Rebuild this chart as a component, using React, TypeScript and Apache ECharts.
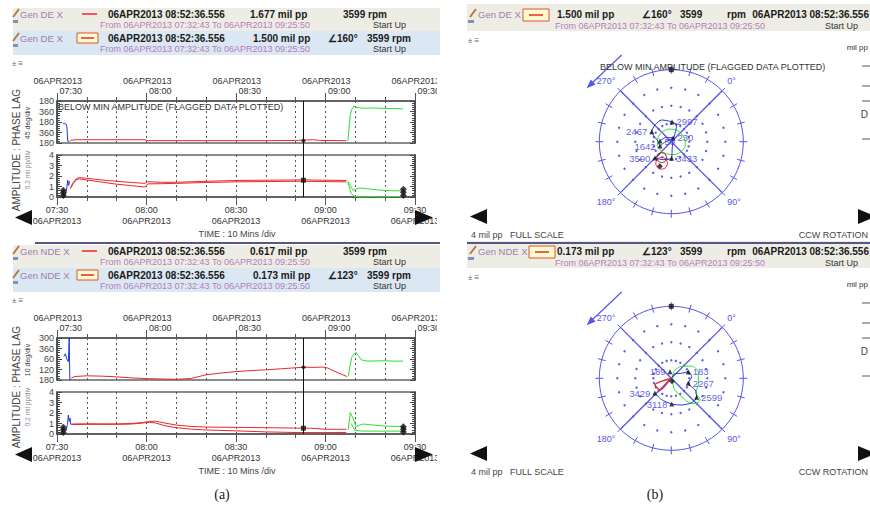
import React, { useEffect, useRef } from 'react';
import * as echarts from 'echarts';

const FONT = '"Liberation Sans", Arial, Helvetica, sans-serif';

// ---------------- texts / header values ----------------
const DATE_LABEL = '06APR2013';
const TIME_TICKS = ['07:30', '08:00', '08:30', '09:00', '09:30']; // minutes 0,30,60,90,120 after 07:30
const PROBES = ['Gen DE X', 'Gen NDE X'];
const CURSOR_STAMP = '06APR2013 08:52:36.556';
const RANGE_TEXT = 'From 06APR2013 07:32:43 To 06APR2013 09:25:50';
const DIRECT_AMPS = ['1.677 mil pp', '0.617 mil pp'];
const FILTERED_AMPS = ['1.500 mil pp', '0.173 mil pp'];
const FILTERED_PHASES = ['∠160°', '∠123°'];
const RPM_VALUE = '3599';
const MACHINE_STATE = 'Start Up';
const PHASE_SCALES = ['45 deg/div', '10 deg/div'];
const AMP_SCALE = '0.2 mil pp/div';
const AXIS_TITLE = 'AMPLITUDE : PHASE LAG';
const TIME_TITLE = 'TIME : 10 Mins /div';
const FLAG_NOTE = 'BELOW MIN AMPLITUDE (FLAGGED DATA PLOTTED)';
const FULL_SCALE = '4 mil pp   FULL SCALE';
const ROTATION = 'CCW ROTATION';
const PANEL_TAGS = ['(a)', '(b)'];

const CURSOR_MIN = 82.6; // 08:52:36
const DE_PHASE_TICKS = ['180', '360', '180', '360', '180'];
const NDE_PHASE_TICKS = ['300', '360', '60', '120', '180'];

// ---------------- trend data: [minutes after 07:30, value] ----------------
const DE_PHASE_BLUE = [[2.0, 95], [2.6, 97], [3.0, 99], [3.3, 108], [3.6, 172], [4.2, 173]];
const DE_PHASE_RED = [[4.5, 169], [6, 166], [15, 166], [29.5, 166], [30.5, 170], [50, 170], [70, 170], [80, 169], [84, 167], [86, 166], [88, 169], [97, 170]];
const DE_PHASE_GREEN = [[97.5, 170], [98.3, 60], [98.8, 36], [99.5, 22], [100.2, 26], [101, 29], [103, 31], [106, 30], [110, 32], [113, 32], [116, 34]];
const DE_AMP_BLUE = [[2.4, 0.0], [2.9, 0.3], [3.3, 0.9], [3.6, 1.6], [3.9, 1.1], [4.2, 1.5]];
const DE_AMP_RED_HI = [[4.5, 0.9], [5.5, 1.4], [6.5, 1.75], [7.5, 1.85], [10, 1.78], [15, 1.62], [20, 1.5], [25, 1.38], [29.5, 1.3], [30.5, 1.45], [35, 1.4], [40, 1.4], [50, 1.5], [60, 1.57], [70, 1.6], [82, 1.63], [90, 1.6], [97, 1.57]];
const DE_AMP_RED_LO = [[4.5, 0.8], [5.5, 1.3], [6.5, 1.65], [7.5, 1.72], [10, 1.62], [15, 1.42], [20, 1.22], [25, 1.08], [29.5, 0.95], [30.5, 1.25], [35, 1.27], [40, 1.3], [50, 1.38], [60, 1.44], [70, 1.47], [82, 1.5], [90, 1.47], [97, 1.44]];
const DE_AMP_GREEN_HI = [[97.5, 1.5], [98.3, 1.1], [99.3, 0.62], [100.5, 0.8], [101.5, 0.86], [104, 0.78], [108, 0.66], [112, 0.6], [116, 0.58]];
const DE_AMP_GREEN_LO = [[97.5, 1.45], [98.5, 0.35], [99.8, 0.05], [102, 0.04], [108, 0.04], [116, 0.04]];
const DE_AMP_MARKS = [[2.1, 0.15], [2.1, 0.4], [2.1, 0.65], [116.1, 0.15], [116.1, 0.45], [116.1, 0.75]];
const DE_CURSOR_VALUES = [170, 1.6]; // phase, amplitude at cursor

const NDE_PHASE_BLUE = [[2.3, 45], [2.8, 30], [3.3, 60], [3.8, 75], [4.1, -60], [4.3, 180], [4.6, 178]];
const NDE_PHASE_RED = [[4.8, 168], [6, 160], [10, 156], [15, 158], [20, 162], [25, 168], [30, 172], [35, 174], [40, 176], [45, 171], [50, 150], [55, 140], [60, 132], [65, 126], [70, 122], [75, 116], [80, 110], [83, 107], [86, 108], [89, 106], [90.5, 110], [93, 130], [96, 152], [97.2, 160]];
const NDE_PHASE_GREEN = [[97.6, 160], [98.2, 100], [98.8, 50], [99.6, 30], [100.3, 24], [101, 40], [102, 65], [104, 72], [107, 71], [110, 70], [113, 72], [116, 72]];
const NDE_AMP_BLUE = [[3.0, 0.3], [3.5, 0.9], [3.8, 1.8], [4.1, 1.2], [4.4, 1.5], [4.6, 0.9]];
const NDE_AMP_RED_HI = [[4.8, 0.95], [10, 0.97], [20, 0.96], [25, 1.0], [29, 1.1], [31, 1.2], [33, 1.22], [36, 1.05], [40, 0.85], [45, 0.72], [50, 0.66], [60, 0.63], [70, 0.6], [80, 0.56], [85, 0.55], [90, 0.45], [97, 0.45]];
const NDE_AMP_RED_LO = [[4.8, 0.9], [10, 0.92], [20, 0.92], [25, 0.95], [29, 1.05], [31, 1.12], [33, 1.05], [36, 0.8], [40, 0.6], [45, 0.46], [50, 0.38], [60, 0.3], [70, 0.2], [80, 0.14], [90, 0.13], [97, 0.15]];
const NDE_AMP_GREEN_HI = [[97.6, 0.4], [98.3, 2.05], [99.2, 1.5], [100.3, 0.7], [101.5, 0.85], [102.5, 0.95], [105, 0.88], [110, 0.75], [116, 0.72]];
const NDE_AMP_GREEN_LO = [[98.6, 1.0], [99.8, 0.35], [102, 0.28], [108, 0.27], [116, 0.28]];
const NDE_AMP_MARKS = [[2.1, 0.15], [2.1, 0.4], [2.1, 0.65], [116.1, 0.2], [116.1, 0.45], [116.1, 0.7]];
const NDE_CURSOR_VALUES = [107, 0.55];

// ---------------- polar data: [amplitude mil pp, phase deg] ----------------
const POLAR_DE_BLUE = [[0.63, 228], [0.4, 260], [0.23, 340], [0.45, 215], [0.67, 204], [0.72, 225], [1.22, 252], [1.3, 271], [1.32, 291], [1.1, 317], [0.97, 333], [0.51, 339], [0.1, 20], [0.5, 130], [0.92, 134], [1.1, 160], [1.29, 180]];
const POLAR_DE_GREEN = [[0.72, 0], [0.76, 30], [0.8, 60], [0.78, 90], [0.74, 120], [0.72, 150], [0.76, 180], [0.8, 210], [0.78, 240], [0.74, 270], [0.72, 300], [0.7, 330], [0.72, 358]];
const POLAR_DE_RED = [[1.22, 144.5], [1.01, 152.2], [1.02, 166.6], [1.23, 173.4], [1.48, 170.8], [1.63, 163.1], [1.62, 154.2], [1.46, 146.8], [1.22, 144.5]];
const POLAR_DE_DARKRED = [[0.92, 151], [0.77, 161], [0.81, 176], [1.0, 181], [1.2, 177], [1.3, 169], [1.28, 160], [1.13, 152], [0.92, 151]];
const POLAR_DE_MARKS = [[1.1, 317, 2997], [1.22, 252, 2467], [0.67, 204, 1642], [0.63, 228, 50], [0.23, 340, 230], [1.29, 180, 3590], [0.92, 134, 3433]];
const POLAR_DE_SIDES = ['right', 'left', 'left', 'right', 'right', 'left', 'right'];

const POLAR_NDE_BLUE = [[0.05, 0], [0.3, 350], [0.64, 19], [1.01, 24], [1.14, 40], [0.98, 61], [1.47, 71], [1.76, 82], [1.77, 95], [1.59, 114], [1.43, 134], [1.3, 160], [1.23, 183]];
const POLAR_NDE_GREEN = [[0.38, 332], [0.81, 352], [1.32, 14], [1.54, 31], [1.53, 55], [1.61, 76], [1.98, 81], [1.98, 90], [1.71, 98], [1.3, 104], [0.68, 118], [0.2, 113], [0.38, 332]];
const POLAR_NDE_RED = [[0.07, 200], [0.98, 203], [0.9, 179], [0.07, 200]];
const POLAR_NDE_MARKS = [[0.37, 304, 189], [1.01, 24, 183], [0.98, 61, 2267], [1.76, 82, 2599], [1.43, 134, 3118], [1.23, 183, 3429]];
const POLAR_NDE_SIDES = ['left', 'right', 'right', 'right', 'left', 'left'];

const POLAR_CURSORS = [[1.5, 160], [0.173, 123]];
const POLAR_REFERENCE_MARK = [4, 315];
const POLAR_FULL_SCALE = 4;
const POLAR_SPOKES = [0, 90, 180, 270]; // half-lines from the centre to full scale
const POLAR_GRID_RINGS = [1, 2, 3];
const POLAR_GRID_STEP = 15;

// ---------------- style ----------------
const BLUE = '#2038d8';
const RED = '#e8282c';
const DARKRED = '#8a1c1c';
const GREEN = '#2ee02e';
const PBLUE = '#5656e6';
const FRAME = '#666';
const LAV = '#9a80ac';
const PURPLE = '#b57db9';

const PANEL_DY = 237;
const POLAR_CX = 671.3;
const POLAR_CY = [141.7, 378.3];
const POLAR_R = 72;
const HEADER_BOX_X = [523, 529];

function T(x: number, y: number, text: string, o: any = {}) {
  const align = o.align || 'left';
  return {
    type: 'text', x, y, z: 20, silent: true, rotation: o.rot || 0,
    style: {
      text, fill: o.fill || '#1a1a1a',
      font: `${o.bold ? 'bold ' : ''}${o.size || 10}px ${o.family || FONT}`,
      textAlign: align, align, textVerticalAlign: 'middle', verticalAlign: 'middle',
    },
  };
}
const R = (x: number, y: number, w: number, h: number, fill: string, stroke?: string, z = 1) => ({
  type: 'rect', z, silent: true, shape: { x, y, width: w, height: h },
  style: { fill, stroke: stroke || 'none', lineWidth: 1 },
});
const L = (x1: number, y1: number, x2: number, y2: number, stroke: string, lw = 1) => ({
  type: 'line', z: 5, silent: true, shape: { x1, y1, x2, y2 }, style: { stroke, lineWidth: lw },
});
const P = (points: number[][], fill: string) => ({ type: 'polygon', z: 25, silent: true, shape: { points }, style: { fill } });

function timeAxis(gridIndex: number, position: string, main: boolean, tickLen: number, interval: number) {
  const top = position === 'top';
  return {
    gridIndex, type: 'value', position, min: 0, max: 120, interval,
    axisLine: { show: main, onZero: false, lineStyle: { color: '#555', width: 1.5 } },
    axisTick: { show: true, length: tickLen, lineStyle: { color: '#555', width: 1 } },
    axisLabel: main
      ? {
          show: true, margin: top ? 5 : 7, color: '#333', fontSize: 9, lineHeight: 11, fontFamily: FONT,
          formatter: (v: number) =>
            v % 30 !== 0 ? '' : top ? `{r|${DATE_LABEL}}\n{r|${TIME_TICKS[v / 30]}}` : `${TIME_TICKS[v / 30]}\n${DATE_LABEL}`,
          rich: { r: { width: 50, align: 'right', fontSize: 9, lineHeight: 10, color: '#333', fontFamily: FONT } },
        }
      : { show: false },
    splitLine: { show: main, lineStyle: { color: '#555', width: 1, type: [2, 3] } },
  };
}

function yValueAxis(gridIndex: number, position: string, main: boolean, min: number, max: number, interval: number, inverse: boolean, labels: string[] | null) {
  return {
    gridIndex, type: 'value', position, min, max, interval, inverse,
    axisLine: { show: true, onZero: false, lineStyle: { color: '#444', width: 1.5 } },
    axisTick: { show: true, inside: true, length: 5, lineStyle: { color: '#444' } },
    minorTick: { show: true, splitNumber: 5, length: 3, lineStyle: { color: '#444' } },
    axisLabel: main
      ? {
          show: true, fontSize: 9, color: '#444', margin: 3, fontFamily: FONT,
          formatter: (v: number) => (labels ? labels[Math.round((v - min) / interval)] : String(v)),
        }
      : { show: false },
    splitLine: { show: false },
  };
}

function buildOption() {
  const grid: any[] = [], xAxis: any[] = [], yAxis: any[] = [], series: any[] = [];
  const polar: any[] = [], angleAxis: any[] = [], radiusAxis: any[] = [];
  const graphic: any[] = [];

  const TREND = [
    [DE_PHASE_BLUE, DE_PHASE_RED, DE_PHASE_GREEN, DE_AMP_BLUE, DE_AMP_RED_HI, DE_AMP_RED_LO, DE_AMP_GREEN_HI, DE_AMP_GREEN_LO, DE_AMP_MARKS, DE_CURSOR_VALUES],
    [NDE_PHASE_BLUE, NDE_PHASE_RED, NDE_PHASE_GREEN, NDE_AMP_BLUE, NDE_AMP_RED_HI, NDE_AMP_RED_LO, NDE_AMP_GREEN_HI, NDE_AMP_GREEN_LO, NDE_AMP_MARKS, NDE_CURSOR_VALUES],
  ];
  const POLARS = [
    [POLAR_DE_BLUE, POLAR_DE_GREEN, POLAR_DE_RED, POLAR_DE_DARKRED, POLAR_DE_MARKS, POLAR_DE_SIDES],
    [POLAR_NDE_BLUE, POLAR_NDE_GREEN, POLAR_NDE_RED, null, POLAR_NDE_MARKS, POLAR_NDE_SIDES],
  ];

  const dots: number[][] = [];
  POLAR_GRID_RINGS.forEach((r) => {
    for (let a = 0; a < 360; a += POLAR_GRID_STEP) dots.push([r, a]);
  });

  const ln = (data: any, color: string, xi: number, yi: number) => ({
    type: 'line', data, xAxisIndex: xi, yAxisIndex: yi, showSymbol: false, symbol: 'none', silent: true, z: 3,
    lineStyle: { color, width: 1 }, itemStyle: { color },
  });
  const pl = (data: any, color: string, pi: number, w = 1, smooth: any = 0.25, z = 3) => ({
    type: 'line', coordinateSystem: 'polar', polarIndex: pi, data, showSymbol: false, symbol: 'none', silent: true, z,
    smooth, color, lineStyle: { color, width: w }, itemStyle: { color }, emphasis: { disabled: true },
  });

  for (let p = 0; p < 2; p++) {
    const oy = PANEL_DY * p;
    const tr: any = TREND[p];

    // ---------- grids ----------
    const gP = grid.length;
    grid.push({ left: 57, top: 101 + oy, width: 358, height: 42, show: true, borderColor: FRAME, borderWidth: 1.5 });
    const gA = grid.length;
    grid.push({ left: 57, top: 155 + oy, width: 358, height: 42, show: true, borderColor: FRAME, borderWidth: 1.5 });
    const gC = grid.length;
    grid.push({ left: 57, top: 101 + oy, width: 358, height: 96, show: false });

    const xP = xAxis.length;
    xAxis.push(timeAxis(gP, 'top', true, 4, 10));
    xAxis.push(timeAxis(gP, 'top', false, 8, 30));
    const xA = xAxis.length;
    xAxis.push(timeAxis(gA, 'bottom', true, 4, 10));
    xAxis.push(timeAxis(gA, 'bottom', false, 8, 30));
    const xC = xAxis.length;
    xAxis.push({ gridIndex: gC, type: 'value', min: 0, max: 120, show: false });

    const yP = yAxis.length;
    const pmin = p ? -60 : 0, pint = p ? 60 : 45;
    const pticks = p ? NDE_PHASE_TICKS : DE_PHASE_TICKS;
    yAxis.push(yValueAxis(gP, 'left', true, pmin, 180, pint, true, pticks));
    yAxis.push(yValueAxis(gP, 'right', false, pmin, 180, pint, true, pticks));
    const yA = yAxis.length;
    yAxis.push(yValueAxis(gA, 'left', true, 0, 4, 1, false, null));
    yAxis.push(yValueAxis(gA, 'right', false, 0, 4, 1, false, null));
    const yC = yAxis.length;
    yAxis.push({ gridIndex: gC, type: 'value', min: 0, max: 1, show: false });

    // ---------- trend series ----------
    series.push(ln(tr[1], RED, xP, yP));
    series.push(ln(tr[0], BLUE, xP, yP));
    series.push(ln(tr[2], GREEN, xP, yP));
    series.push(ln(tr[4], RED, xA, yA));
    series.push(ln(tr[5], RED, xA, yA));
    series.push(ln(tr[3], BLUE, xA, yA));
    series.push(ln(tr[6], GREEN, xA, yA));
    series.push(ln(tr[7], GREEN, xA, yA));
    series.push({
      type: 'scatter', xAxisIndex: xA, yAxisIndex: yA, data: tr[8], symbol: 'diamond', symbolSize: 7,
      itemStyle: { color: '#111' }, silent: true, z: 5,
    });
    series.push({
      type: 'scatter', xAxisIndex: xP, yAxisIndex: yP, data: [[CURSOR_MIN, tr[9][0]]], symbol: 'diamond', symbolSize: 5,
      itemStyle: { color: '#111' }, silent: true, z: 5,
    });
    series.push({
      type: 'scatter', xAxisIndex: xA, yAxisIndex: yA, data: [[CURSOR_MIN, tr[9][1]]], symbol: 'rect', symbolSize: 5,
      itemStyle: { color: '#111' }, silent: true, z: 5,
    });
    series.push({
      type: 'line', xAxisIndex: xC, yAxisIndex: yC, data: [[CURSOR_MIN, 0.5]], symbol: 'none', silent: true,
      lineStyle: { opacity: 0 },
      markLine: {
        silent: true, symbol: ['none', 'none'], label: { show: false }, animation: false,
        lineStyle: { color: '#111', width: 1, type: 'solid' }, data: [{ xAxis: CURSOR_MIN }],
      },
    });

    // ---------- polar ----------
    const pk = polar.length;
    const cy = POLAR_CY[p];
    polar.push({ center: [POLAR_CX, cy], radius: POLAR_R });
    polar.push({ center: [POLAR_CX, cy], radius: POLAR_R });
    polar.push({ center: [POLAR_CX, cy], radius: POLAR_R });
    angleAxis.push({
      polarIndex: pk, type: 'value', min: 0, max: 360, interval: 90, startAngle: 45, clockwise: true,
      axisLine: { show: true, lineStyle: { color: PBLUE, width: 1 } },
      axisTick: { show: false },
      axisLabel: { show: true, color: PBLUE, fontSize: 9, margin: 7, fontFamily: FONT, formatter: (v: number) => `${v}°` },
      splitLine: { show: false },
    });
    [false, true].forEach((inside, k) => {
      angleAxis.push({
        polarIndex: pk + 1 + k, type: 'value', min: 0, max: 360, interval: POLAR_GRID_STEP, startAngle: 45, clockwise: true,
        axisLine: { show: false },
        axisTick: { show: true, inside, length: 4, lineStyle: { color: PBLUE, width: 1 } },
        axisLabel: { show: false }, splitLine: { show: false },
      });
    });
    for (let k = 0; k < 3; k++) {
      radiusAxis.push({
        polarIndex: pk + k, type: 'value', min: 0, max: POLAR_FULL_SCALE, interval: 1,
        axisLine: { show: false }, axisTick: { show: false }, axisLabel: { show: false }, splitLine: { show: false },
      });
    }
    const pd: any = POLARS[p];
    POLAR_SPOKES.forEach((a) => {
      series.push(pl([[0, a], [POLAR_FULL_SCALE, a]], PBLUE, pk, 1.3, false, 50));
    });
    series.push({
      type: 'scatter', coordinateSystem: 'polar', polarIndex: pk, data: dots, symbolSize: 2.4,
      itemStyle: { color: '#3a3ad0' }, silent: true, z: 2,
    });
    series.push(pl(pd[1], GREEN, pk, 1, 0.25, 51));
    series.push(pl(pd[0], BLUE, pk, 1, 0.25, 52));
    series.push(pl(pd[2], RED, pk, p ? 1.6 : 1, 0.25, 53));
    if (pd[3]) series.push(pl(pd[3], DARKRED, pk, 1, 0.25, 53));
    const marks = pd[4], sides = pd[5];
    series.push({
      type: 'scatter', coordinateSystem: 'polar', polarIndex: pk,
      data: marks.map((m: number[], i: number) => ({ value: [m[0], m[1]], label: { position: sides[i] } })),
      symbol: 'triangle', symbolSize: 5, itemStyle: { color: '#111' }, silent: true, z: 55,
      label: {
        show: true, color: '#3838d8', fontSize: 9.5, distance: 2, fontFamily: FONT,
        formatter: (pr: any) => String(marks[pr.dataIndex][2]),
      },
    });
    series.push({
      type: 'scatter', coordinateSystem: 'polar', polarIndex: pk, data: [POLAR_CURSORS[p]],
      symbol: 'diamond', symbolSize: 6, itemStyle: { color: '#111' }, silent: true, z: 55,
    });
    series.push({
      type: 'scatter', coordinateSystem: 'polar', polarIndex: pk, data: [POLAR_REFERENCE_MARK],
      symbol: 'rect', symbolSize: 5, itemStyle: { color: '#111' }, silent: true, z: 55,
    });

    // ---------- left panel decoration ----------
    graphic.push(R(13, 8 + oy, 427, 23, '#eeede5'));
    graphic.push(R(13, 31 + oy, 427, 24, '#dbe7f3'));
    [14, 38].forEach((ry) => {
      graphic.push(L(13, ry + 3 + oy, 19, ry - 5 + oy, '#b57a44', 2));
      graphic.push(R(13, ry + 6 + oy, 5, 3, '#7f93b8', undefined, 2));
      graphic.push(T(20, ry + oy, PROBES[p], { fill: LAV, size: 9.5 }));
      graphic.push(T(108, ry + oy, CURSOR_STAMP, { bold: true }));
      graphic.push(T(100, ry + 11 + oy, RANGE_TEXT, { fill: PURPLE, size: 9 }));
      graphic.push(T(373, ry + 11 + oy, MACHINE_STATE, { fill: '#333', size: 9 }));
    });
    graphic.push(L(82, 14 + oy, 97, 14 + oy, RED, 1.5));
    graphic.push(T(250, 14 + oy, DIRECT_AMPS[p], { bold: true }));
    graphic.push(T(343, 14 + oy, `${RPM_VALUE} rpm`, { bold: true }));
    graphic.push(R(77, 33 + oy, 21, 10, '#fffbd0', '#e0502c', 2));
    graphic.push(L(81, 38 + oy, 94, 38 + oy, RED, 1.5));
    graphic.push(T(253, 38 + oy, FILTERED_AMPS[p], { bold: true }));
    graphic.push(T(328, 38 + oy, FILTERED_PHASES[p], { bold: true }));
    graphic.push(T(367, 38 + oy, `${RPM_VALUE} rpm`, { bold: true }));
    graphic.push(T(12, 63 + oy, '± ≡', { size: 8, fill: '#666' }));
    graphic.push(T(16, 150 + oy, AXIS_TITLE, { rot: Math.PI / 2, align: 'center', size: 10, fill: '#444' }));
    graphic.push(T(27, 123 + oy, PHASE_SCALES[p], { rot: Math.PI / 2, align: 'center', size: 7, fill: '#444' }));
    graphic.push(T(27, 170 + oy, AMP_SCALE, { rot: Math.PI / 2, align: 'center', size: 6.5, fill: '#888' }));
    graphic.push(T(237, 234 + oy, TIME_TITLE, { align: 'center', size: 9, fill: '#444' }));
    graphic.push(P([[15, 217.5 + oy], [32, 210 + oy], [32, 225 + oy]], '#111'));
    graphic.push(P([[415, 210 + oy], [433, 217.5 + oy], [415, 225 + oy]], '#111'));
    graphic.push(R(437, 70 + oy, 12, 30, '#ffffff', undefined, 30));
    graphic.push(R(437, 203 + oy, 12, 28, '#ffffff', undefined, 30));
    if (p === 0) graphic.push(T(58, 107, FLAG_NOTE, { size: 9, fill: '#333' }));

    // ---------- right panel decoration ----------
    graphic.push(R(467, 4 + oy, 403, 27, '#eeede5'));
    graphic.push(L(470, 17 + oy, 476, 9 + oy, '#b57a44', 2));
    graphic.push(R(468, 20 + oy, 6, 3, '#7f93b8', undefined, 2));
    graphic.push(T(478, 14 + oy, PROBES[p], { fill: LAV, size: 9.5 }));
    const bx = HEADER_BOX_X[p];
    graphic.push(R(bx, 9 + oy, 26, 12, '#fffbd0', '#e0502c', 2));
    graphic.push(L(bx + 6, 15 + oy, bx + 20, 15 + oy, RED, 1.5));
    graphic.push(T(557, 14 + oy, FILTERED_AMPS[p], { bold: true }));
    graphic.push(T(642, 14 + oy, FILTERED_PHASES[p], { bold: true }));
    graphic.push(T(680, 14 + oy, RPM_VALUE, { bold: true }));
    graphic.push(T(727, 14 + oy, 'rpm', { bold: true }));
    graphic.push(T(869, 14 + oy, CURSOR_STAMP, { bold: true, align: 'right' }));
    graphic.push(T(555, 26 + oy, RANGE_TEXT, { fill: PURPLE, size: 9 }));
    graphic.push(T(825, 26 + oy, MACHINE_STATE, { fill: '#333', size: 9 }));
    graphic.push(T(468, 40 + oy, '± ≡', { size: 8, fill: '#666' }));
    graphic.push(T(868, 47 + oy, 'mil pp', { size: 8, fill: '#333', align: 'right' }));
    [66, 86, 101, 139].forEach((yy) => graphic.push(L(862, yy + oy, 870, yy + oy, '#555', 1)));
    graphic.push(T(868, 114 + oy, 'D', { size: 10, fill: '#444', align: 'right' }));
    graphic.push(L(621.7, 55 + oy, 592, 83 + oy, PBLUE, 1.2));
    graphic.push(P([[586.7, 88.3 + oy], [595.6, 84.6 + oy], [590.8, 79.6 + oy]], PBLUE));
    if (p === 0) graphic.push(T(600, 67, FLAG_NOTE, { size: 9, fill: '#333' }));
    graphic.push(P([[470, 216.5 + oy], [487, 209 + oy], [487, 224 + oy]], '#111'));
    graphic.push(P([[858, 209 + oy], [876, 216.5 + oy], [858, 224 + oy]], '#111'));
    graphic.push(T(471, 235 + oy, FULL_SCALE, { size: 9, fill: '#444' }));
    graphic.push(T(868, 235 + oy, ROTATION, { size: 9, fill: '#444', align: 'right' }));
  }

  graphic.push(L(35, 243, 440, 243, '#55558a', 2));
  graphic.push(L(467, 243, 870, 243, '#55558a', 2));
  graphic.push(T(222, 494, PANEL_TAGS[0], { align: 'center', size: 14, family: '"Liberation Serif", "DejaVu Serif", serif' }));
  graphic.push(T(655, 494, PANEL_TAGS[1], { align: 'center', size: 14, family: '"Liberation Serif", "DejaVu Serif", serif' }));

  return {
    animation: false,
    backgroundColor: '#ffffff',
    textStyle: { fontFamily: FONT },
    grid, xAxis, yAxis, polar, angleAxis, radiusAxis, series, graphic,
  };
}

export default function App() {
  const ref = useRef<HTMLDivElement>(null);
  useEffect(() => {
    const chart = echarts.init(ref.current as HTMLDivElement, undefined, { renderer: 'svg' });
    chart.setOption(buildOption() as any);
    return () => chart.dispose();
  }, []);
  return <div ref={ref} style={{ position: 'absolute', left: 0, top: 0, width: 870, height: 506, background: '#fff' }} />;
}
